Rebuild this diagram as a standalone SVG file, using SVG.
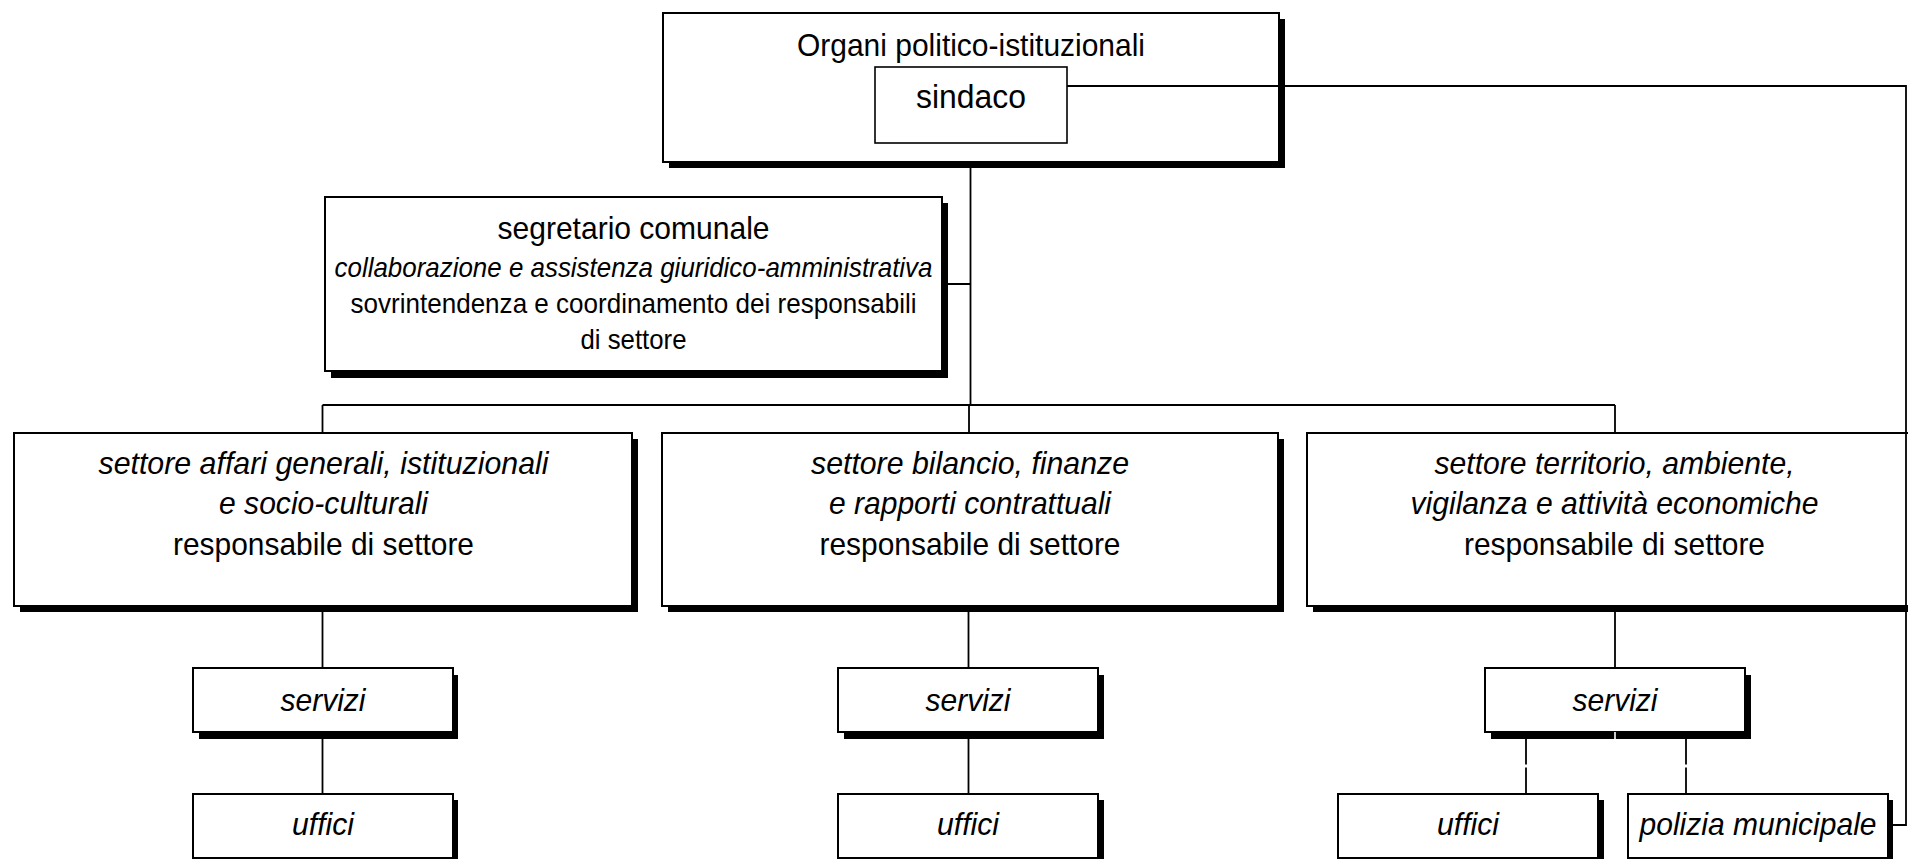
<svg xmlns="http://www.w3.org/2000/svg" width="1908" height="859" viewBox="0 0 1908 859">
<style>
.box{fill:#fff;stroke:#000;stroke-width:2}
.thin{fill:#fff;stroke:#000;stroke-width:1.6}
.sh{fill:#000}
.t{font-family:"Liberation Sans",Arial,sans-serif;font-size:32px;fill:#000;text-anchor:middle}
.s{font-size:28px}
.i{font-style:italic}
.c{fill:none;stroke:#000;stroke-width:1.8}
</style>
<rect width="1908" height="859" fill="#fff"/>
<g id="organi">
<rect class="sh" x="669" y="19" width="616" height="149"/>
<rect class="box" x="663" y="13" width="616" height="149"/>
<text class="t" x="971" y="56" textLength="348" lengthAdjust="spacingAndGlyphs">Organi politico-istituzionali</text>
</g>
<g id="sindaco">
<rect class="thin" x="875" y="67" width="192" height="76"/>
<text class="t" x="971" y="108" style="font-size:33px" textLength="110" lengthAdjust="spacingAndGlyphs">sindaco</text>
</g>
<g id="segretario">
<rect class="sh" x="331" y="203" width="617" height="175"/>
<rect class="box" x="325" y="197" width="617" height="174"/>
<text class="t" x="633.5" y="239" textLength="272" lengthAdjust="spacingAndGlyphs">segretario comunale</text>
<text class="t s i" x="633.5" y="277" textLength="598" lengthAdjust="spacingAndGlyphs">collaborazione e assistenza giuridico-amministrativa</text>
<text class="t s" x="633.5" y="313" textLength="566" lengthAdjust="spacingAndGlyphs">sovrintendenza e coordinamento dei responsabili</text>
<text class="t s" x="633.5" y="349" textLength="106" lengthAdjust="spacingAndGlyphs">di settore</text>
</g>
<g id="settore1">
<rect class="sh" x="20" y="439" width="618" height="173"/>
<rect class="box" x="14" y="433" width="618" height="173"/>
<text class="t i" x="323.5" y="474" textLength="450" lengthAdjust="spacingAndGlyphs">settore affari generali, istituzionali</text>
<text class="t i" x="323.5" y="514" textLength="209" lengthAdjust="spacingAndGlyphs">e socio-culturali</text>
<text class="t" x="323.5" y="555" textLength="301" lengthAdjust="spacingAndGlyphs">responsabile di settore</text>
</g>
<g id="settore2">
<rect class="sh" x="668" y="439" width="616" height="173"/>
<rect class="box" x="662" y="433" width="616" height="173"/>
<text class="t i" x="970" y="474" textLength="318" lengthAdjust="spacingAndGlyphs">settore bilancio, finanze</text>
<text class="t i" x="970" y="514" textLength="282" lengthAdjust="spacingAndGlyphs">e rapporti contrattuali</text>
<text class="t" x="970" y="555" textLength="301" lengthAdjust="spacingAndGlyphs">responsabile di settore</text>
</g>
<g id="settore3">
<rect class="sh" x="1313" y="439" width="615" height="173"/>
<rect class="box" x="1307" y="433" width="615" height="173"/>
<text class="t i" x="1614.5" y="474" textLength="360" lengthAdjust="spacingAndGlyphs">settore territorio, ambiente,</text>
<text class="t i" x="1614.5" y="514" textLength="408" lengthAdjust="spacingAndGlyphs">vigilanza e attività economiche</text>
<text class="t" x="1614.5" y="555" textLength="301" lengthAdjust="spacingAndGlyphs">responsabile di settore</text>
</g>
<g id="servizi1">
<rect class="sh" x="199" y="675" width="259" height="64"/>
<rect class="box" x="193" y="668" width="260" height="64"/>
<text class="t i" x="323" y="710.5" textLength="85" lengthAdjust="spacingAndGlyphs">servizi</text>
</g>
<g id="uffici1">
<rect class="sh" x="199" y="800" width="259" height="64"/>
<rect class="box" x="193" y="794" width="260" height="64"/>
<text class="t i" x="323" y="835" textLength="62" lengthAdjust="spacingAndGlyphs">uffici</text>
</g>
<g id="servizi2">
<rect class="sh" x="844" y="675" width="260" height="64"/>
<rect class="box" x="838" y="668" width="260" height="64"/>
<text class="t i" x="968" y="710.5" textLength="85" lengthAdjust="spacingAndGlyphs">servizi</text>
</g>
<g id="uffici2">
<rect class="sh" x="844" y="800" width="260" height="64"/>
<rect class="box" x="838" y="794" width="260" height="64"/>
<text class="t i" x="968" y="835" textLength="62" lengthAdjust="spacingAndGlyphs">uffici</text>
</g>
<g id="servizi3">
<rect class="sh" x="1491" y="675" width="260" height="64"/>
<rect class="box" x="1485" y="668" width="260" height="64"/>
<text class="t i" x="1615" y="710.5" textLength="85" lengthAdjust="spacingAndGlyphs">servizi</text>
</g>
<g id="uffici3">
<rect class="sh" x="1344" y="800" width="260" height="64"/>
<rect class="box" x="1338" y="794" width="260" height="64"/>
<text class="t i" x="1468" y="835" textLength="62" lengthAdjust="spacingAndGlyphs">uffici</text>
</g>
<g id="polizia">
<rect class="sh" x="1633" y="800" width="260" height="64"/>
<rect class="box" x="1628" y="794" width="260" height="64"/>
<text class="t i" x="1758" y="835" textLength="237" lengthAdjust="spacingAndGlyphs">polizia municipale</text>
</g>
<g id="connectors">
<path class="c" d="M970.5 168V405M948 284H970.5"/>
<path class="c" d="M322.5 405H1615M322.5 405V433M969 405V433M1615 405V433"/>
<path class="c" d="M1067 86H1906V825H1893"/>
<path class="c" d="M322.5 612V668M322.5 739V794M968.5 612V668M968.5 739V794M1615 612V668"/>
<line x1="1615" y1="732" x2="1615" y2="739" stroke="#fff" stroke-width="1.6"/>
<path class="c" d="M1526 739V793M1686 739V793" stroke-dasharray="25.5 3"/>
</g>
</svg>
